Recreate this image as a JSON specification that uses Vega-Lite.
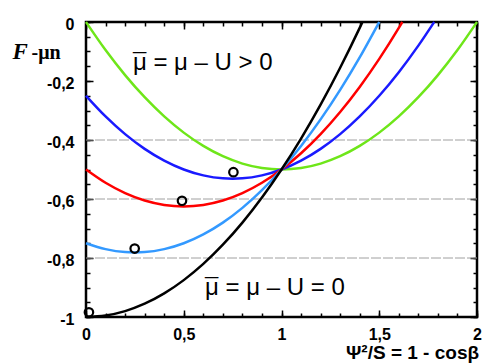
{
  "$schema": "https://vega.github.io/schema/vega-lite/v6.json",
  "width": 391,
  "height": 295,
  "autosize": {"type": "none"},
  "padding": {"left": 86, "top": 22, "right": 21, "bottom": 46},
  "background": "white",
  "config": {"view": {"stroke": "black", "strokeWidth": 2.5}, "axis": {"tickColor": "black", "tickWidth": 1.5, "tickOpacity": 1, "domainOpacity": 0, "gridOpacity": 0}},
  "datasets": {
    "curves": [
      {"curve": "a=1", "x": 0, "y": 0}, {"curve": "a=1", "x": 0.1, "y": -0.095}, {"curve": "a=1", "x": 0.2, "y": -0.18}, {"curve": "a=1", "x": 0.3, "y": -0.255}, {"curve": "a=1", "x": 0.4, "y": -0.32}, {"curve": "a=1", "x": 0.5, "y": -0.375}, {"curve": "a=1", "x": 0.6, "y": -0.42}, {"curve": "a=1", "x": 0.7, "y": -0.455}, {"curve": "a=1", "x": 0.8, "y": -0.48}, {"curve": "a=1", "x": 0.9, "y": -0.495}, {"curve": "a=1", "x": 1.0, "y": -0.5}, {"curve": "a=1", "x": 1.1, "y": -0.495}, {"curve": "a=1", "x": 1.2, "y": -0.48}, {"curve": "a=1", "x": 1.3, "y": -0.455}, {"curve": "a=1", "x": 1.4, "y": -0.42}, {"curve": "a=1", "x": 1.5, "y": -0.375}, {"curve": "a=1", "x": 1.6, "y": -0.32}, {"curve": "a=1", "x": 1.7, "y": -0.255}, {"curve": "a=1", "x": 1.8, "y": -0.18}, {"curve": "a=1", "x": 1.9, "y": -0.095}, {"curve": "a=1", "x": 2.0, "y": 0},
      {"curve": "a=0.75", "x": 0, "y": -0.25}, {"curve": "a=0.75", "x": 0.1, "y": -0.32}, {"curve": "a=0.75", "x": 0.2, "y": -0.38}, {"curve": "a=0.75", "x": 0.3, "y": -0.43}, {"curve": "a=0.75", "x": 0.4, "y": -0.47}, {"curve": "a=0.75", "x": 0.5, "y": -0.5}, {"curve": "a=0.75", "x": 0.6, "y": -0.52}, {"curve": "a=0.75", "x": 0.7, "y": -0.53}, {"curve": "a=0.75", "x": 0.75, "y": -0.531}, {"curve": "a=0.75", "x": 0.8, "y": -0.53}, {"curve": "a=0.75", "x": 0.9, "y": -0.52}, {"curve": "a=0.75", "x": 1.0, "y": -0.5}, {"curve": "a=0.75", "x": 1.1, "y": -0.47}, {"curve": "a=0.75", "x": 1.2, "y": -0.43}, {"curve": "a=0.75", "x": 1.3, "y": -0.38}, {"curve": "a=0.75", "x": 1.4, "y": -0.32}, {"curve": "a=0.75", "x": 1.5, "y": -0.25}, {"curve": "a=0.75", "x": 1.6, "y": -0.17}, {"curve": "a=0.75", "x": 1.7, "y": -0.08}, {"curve": "a=0.75", "x": 1.781, "y": 0},
      {"curve": "a=0.5", "x": 0, "y": -0.5}, {"curve": "a=0.5", "x": 0.1, "y": -0.545}, {"curve": "a=0.5", "x": 0.2, "y": -0.58}, {"curve": "a=0.5", "x": 0.3, "y": -0.605}, {"curve": "a=0.5", "x": 0.4, "y": -0.62}, {"curve": "a=0.5", "x": 0.5, "y": -0.625}, {"curve": "a=0.5", "x": 0.6, "y": -0.62}, {"curve": "a=0.5", "x": 0.7, "y": -0.605}, {"curve": "a=0.5", "x": 0.8, "y": -0.58}, {"curve": "a=0.5", "x": 0.9, "y": -0.545}, {"curve": "a=0.5", "x": 1.0, "y": -0.5}, {"curve": "a=0.5", "x": 1.1, "y": -0.445}, {"curve": "a=0.5", "x": 1.2, "y": -0.38}, {"curve": "a=0.5", "x": 1.3, "y": -0.305}, {"curve": "a=0.5", "x": 1.4, "y": -0.22}, {"curve": "a=0.5", "x": 1.5, "y": -0.125}, {"curve": "a=0.5", "x": 1.6, "y": -0.02}, {"curve": "a=0.5", "x": 1.618, "y": 0},
      {"curve": "a=0.25", "x": 0, "y": -0.75}, {"curve": "a=0.25", "x": 0.1, "y": -0.77}, {"curve": "a=0.25", "x": 0.2, "y": -0.78}, {"curve": "a=0.25", "x": 0.25, "y": -0.781}, {"curve": "a=0.25", "x": 0.3, "y": -0.78}, {"curve": "a=0.25", "x": 0.4, "y": -0.77}, {"curve": "a=0.25", "x": 0.5, "y": -0.75}, {"curve": "a=0.25", "x": 0.6, "y": -0.72}, {"curve": "a=0.25", "x": 0.7, "y": -0.68}, {"curve": "a=0.25", "x": 0.8, "y": -0.63}, {"curve": "a=0.25", "x": 0.9, "y": -0.57}, {"curve": "a=0.25", "x": 1.0, "y": -0.5}, {"curve": "a=0.25", "x": 1.1, "y": -0.42}, {"curve": "a=0.25", "x": 1.2, "y": -0.33}, {"curve": "a=0.25", "x": 1.3, "y": -0.23}, {"curve": "a=0.25", "x": 1.4, "y": -0.12}, {"curve": "a=0.25", "x": 1.5, "y": 0},
      {"curve": "a=0", "x": 0, "y": -1}, {"curve": "a=0", "x": 0.1, "y": -0.995}, {"curve": "a=0", "x": 0.2, "y": -0.98}, {"curve": "a=0", "x": 0.3, "y": -0.955}, {"curve": "a=0", "x": 0.4, "y": -0.92}, {"curve": "a=0", "x": 0.5, "y": -0.875}, {"curve": "a=0", "x": 0.6, "y": -0.82}, {"curve": "a=0", "x": 0.7, "y": -0.755}, {"curve": "a=0", "x": 0.8, "y": -0.68}, {"curve": "a=0", "x": 0.9, "y": -0.595}, {"curve": "a=0", "x": 1.0, "y": -0.5}, {"curve": "a=0", "x": 1.1, "y": -0.395}, {"curve": "a=0", "x": 1.2, "y": -0.28}, {"curve": "a=0", "x": 1.3, "y": -0.155}, {"curve": "a=0", "x": 1.4, "y": -0.02}, {"curve": "a=0", "x": 1.4142, "y": 0}
    ],
    "points": [
      {"x": 0.015, "y": -0.984},
      {"x": 0.249, "y": -0.768},
      {"x": 0.491, "y": -0.606},
      {"x": 0.754, "y": -0.509}
    ],
    "grid": [{"y": -0.4}, {"y": -0.6}, {"y": -0.8}],
    "notes": [
      {"x": 0.24, "y": -0.163, "text": "μ = μ – U > 0"},
      {"x": 0.609, "y": -0.925, "text": "μ = μ – U = 0"}
    ],
    "bars": [
      {"x": 0.24, "y": -0.163, "text": "¯"},
      {"x": 0.609, "y": -0.925, "text": "¯"}
    ]
  },
  "resolve": {"axis": {"x": "independent", "y": "independent"}},
  "layer": [
    {
      "data": {"name": "grid"},
      "mark": {"type": "rule", "color": "#a0a0a0", "strokeWidth": 1, "strokeDash": [10, 2]},
      "encoding": {
        "y": {
          "field": "y", "type": "quantitative",
          "scale": {"domain": [-1, 0], "nice": false, "zero": false},
          "axis": {
            "orient": "right", "offset": -4, "tickCount": 20,
            "labels": false, "title": null, "tickSize": 4
          }
        }
      }
    },
    {
      "data": {"name": "curves"},
      "mark": {"type": "line", "strokeWidth": 2.5, "interpolate": "monotone"},
      "encoding": {
        "x": {
          "field": "x", "type": "quantitative",
          "scale": {"domain": [0, 2], "nice": false, "zero": false},
          "axis": {
            "orient": "bottom", "offset": -7, "tickCount": 4,
            "labelExpr": "replace(datum.value + '', '.', ',')",
            "labelFont": "Liberation Sans", "labelFontSize": 16, "labelFontWeight": "bold", "labelColor": "black",
            "labelPadding": 9, "labelFlush": false, "labelOverlap": false,
            "tickSize": 7,
            "title": "Ψ²/S = 1 - cosβ", "titleX": 326, "titleY": 42, "titleAlign": "center", "titleBaseline": "middle",
            "titleFont": "Liberation Sans", "titleFontSize": 19, "titleFontWeight": "bold", "titleColor": "black"
          }
        },
        "y": {
          "field": "y", "type": "quantitative",
          "scale": {"domain": [-1, 0], "nice": false, "zero": false},
          "axis": {
            "orient": "left", "offset": -7, "tickCount": 5,
            "labelExpr": "replace(datum.value + '', '.', ',')",
            "labelFont": "Liberation Sans", "labelFontSize": 16, "labelFontWeight": "bold", "labelColor": "black",
            "labelPadding": 12, "labelFlush": false, "labelOverlap": false, "labelOffset": 2,
            "tickSize": 7,
            "title": "-μn", "titleAngle": 0, "titleX": -62, "titleY": 36,
            "titleAlign": "left", "titleBaseline": "alphabetic",
            "titleFont": "Liberation Serif", "titleFontSize": 20, "titleFontWeight": "bold", "titleColor": "black"
          }
        },
        "color": {
          "field": "curve", "type": "nominal", "legend": null,
          "scale": {"domain": ["a=1", "a=0.75", "a=0.5", "a=0.25", "a=0"], "range": ["#6ee619", "#1a1aff", "#ff0000", "#3399ff", "#000000"]}
        },
        "order": {"field": "x", "type": "quantitative"}
      }
    },
    {
      "data": {"name": "points"},
      "mark": {"type": "point", "shape": "circle", "filled": false, "stroke": "black", "strokeWidth": 2.2, "size": 72, "opacity": 1},
      "encoding": {
        "x": {
          "field": "x", "type": "quantitative",
          "scale": {"domain": [0, 2], "nice": false, "zero": false},
          "axis": {
            "orient": "top", "offset": -7, "tickCount": 4,
            "labels": false, "title": null, "tickSize": 7
          }
        },
        "y": {
          "field": "y", "type": "quantitative",
          "scale": {"domain": [-1, 0], "nice": false, "zero": false},
          "axis": {
            "orient": "right", "offset": -7, "tickCount": 5,
            "labels": false, "tickSize": 7,
            "title": "F", "titleAngle": 0, "titleX": -458, "titleY": 36,
            "titleAlign": "left", "titleBaseline": "alphabetic",
            "titleFont": "Liberation Serif", "titleFontSize": 23, "titleFontWeight": "bold", "titleFontStyle": "italic", "titleColor": "black"
          }
        }
      }
    },
    {
      "data": {"name": "notes"},
      "mark": {"type": "text", "align": "left", "baseline": "alphabetic", "font": "Liberation Sans", "fontSize": 24, "color": "black"},
      "encoding": {
        "x": {
          "field": "x", "type": "quantitative",
          "scale": {"domain": [0, 2], "nice": false, "zero": false},
          "axis": {
            "orient": "bottom", "offset": -4, "tickCount": 20,
            "labels": false, "title": null, "tickSize": 4
          }
        },
        "y": {
          "field": "y", "type": "quantitative",
          "scale": {"domain": [-1, 0], "nice": false, "zero": false},
          "axis": {
            "orient": "left", "offset": -4, "tickCount": 20,
            "labels": false, "title": null, "tickSize": 4
          }
        },
        "text": {"field": "text"}
      }
    },
    {
      "data": {"name": "bars"},
      "mark": {"type": "text", "align": "left", "baseline": "alphabetic", "font": "Liberation Sans", "fontSize": 24, "color": "black"},
      "encoding": {
        "x": {
          "field": "x", "type": "quantitative",
          "scale": {"domain": [0, 2], "nice": false, "zero": false},
          "axis": {
            "orient": "top", "offset": -4, "tickCount": 20,
            "labels": false, "title": null, "tickSize": 4
          }
        },
        "y": {"field": "y", "type": "quantitative", "scale": {"domain": [-1, 0], "nice": false, "zero": false}, "axis": null},
        "text": {"field": "text"}
      }
    }
  ]
}
